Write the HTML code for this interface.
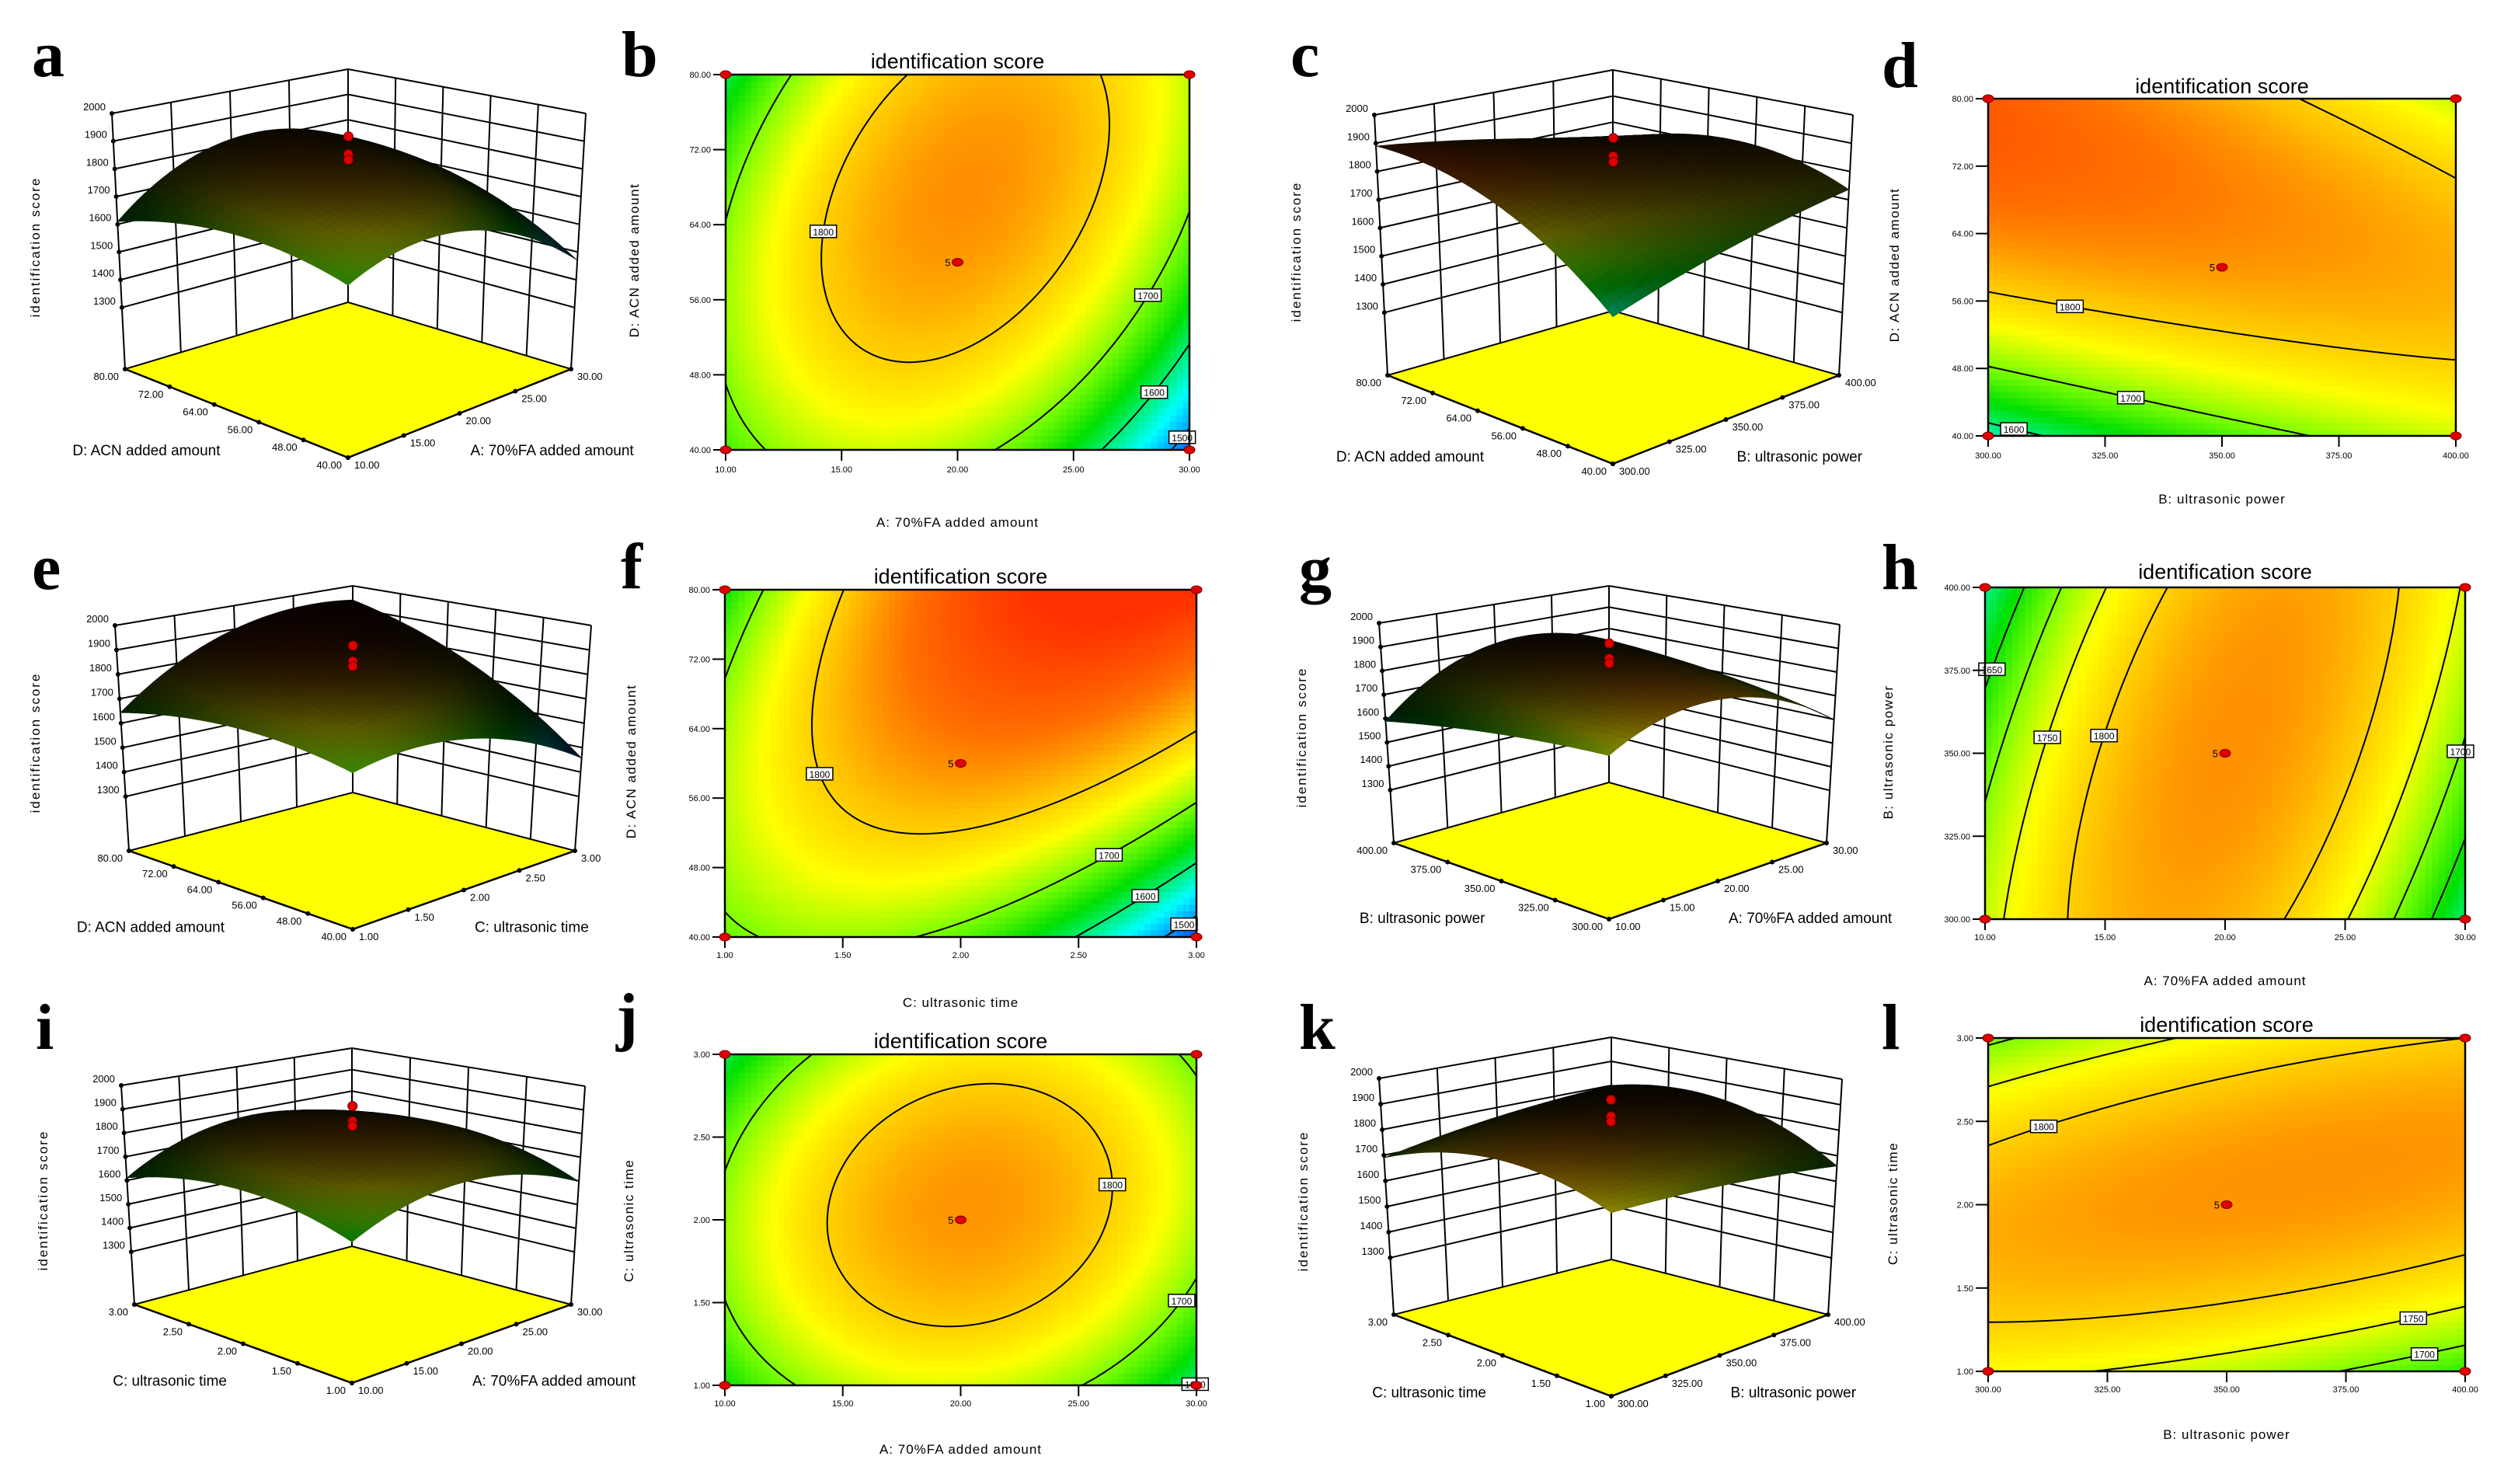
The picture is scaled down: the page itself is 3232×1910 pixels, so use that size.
<!DOCTYPE html>
<html><head><meta charset="utf-8">
<style>
html,body{margin:0;padding:0;background:#fff}
svg{display:block}
text{font-family:"Liberation Sans",sans-serif;fill:#000}
.lt{font-family:"Liberation Serif",serif;font-weight:bold;font-size:84px}
</style></head>
<body>
<svg id="fig" xmlns="http://www.w3.org/2000/svg" width="3232" height="1910" viewBox="0 0 3232 1910">
<rect width="3232" height="1910" fill="#fff"/>
<text class="lt" x="41" y="98">a</text>
<text class="lt" x="800" y="98">b</text>
<text class="lt" x="1661" y="98">c</text>
<text class="lt" x="2422" y="112">d</text>
<text class="lt" x="41" y="758">e</text>
<text class="lt" x="799" y="757">f</text>
<text class="lt" x="1672" y="760">g</text>
<text class="lt" x="2422" y="758">h</text>
<text class="lt" x="46" y="1350">i</text>
<text class="lt" x="793" y="1336">j</text>
<text class="lt" x="1672" y="1350">k</text>
<text class="lt" x="2422" y="1350">l</text>
</svg>
<script>
// ---- data ----
const tickA = ['10.00','15.00','20.00','25.00','30.00'];
const tickB = ['300.00','325.00','350.00','375.00','400.00'];
const tickC = ['1.00','1.50','2.00','2.50','3.00'];
const tickD = ['40.00','48.00','56.00','64.00','72.00','80.00'];
const zTicks = [1300,1400,1500,1600,1700,1800,1900,2000];
// quadratic model coefficients [b0, bx, by, bxx, byy, bxy] in coded units
const coefAD = [1840,-20,50,-150,-70,80];
const coefBD = [1843,1,78,-17,-93,-80];
const coefCD = [1851,16,109,-110,-60,131];
const coefAB = [1848,6,1,-161,-21,72];
const coefAC = [1844,7,14,-125,-85,30];
const coefBC = [1845,2.5,17.5,-17.5,-100,52.5];
const levelsAD = [1500,1600,1700,1800];
const levelsBD = [1600,1700,1800];
const levelsCD = [1500,1600,1700,1800];
const levelsAB = [1650,1700,1750,1800];
const levelsAC = [1600,1700,1800];
const levelsBC = [1700,1750,1800];
const centerRuns = [1945,1880,1860];
const colorStops = [1470,1550,1640,1700,1760,1815,1870,1935];
const colorHex = ['#0060ff','#00ffff','#00e000','#80ff00','#ffff00','#ffc000','#ff7000','#ff3000'];

const axisNames = {A:'A: 70%FA added amount',B:'B: ultrasonic power',C:'C: ultrasonic time',D:'D: ACN added amount'};
const tickSets = {A:tickA,B:tickB,C:tickC,D:tickD};

const svg = document.getElementById('fig');
const NS = 'http://www.w3.org/2000/svg';
function mk(tag, attrs, parent){
  const e = document.createElementNS(NS, tag);
  for (const k in attrs) e.setAttribute(k, attrs[k]);
  (parent || svg).appendChild(e);
  return e;
}
function model(c,u,v){ return c[0]+c[1]*u+c[2]*v+c[3]*u*u+c[4]*v*v+c[5]*u*v; }
function hexRgb(h){ return [parseInt(h.substr(1,2),16),parseInt(h.substr(3,2),16),parseInt(h.substr(5,2),16)]; }
const stopRgb = colorHex.map(hexRgb);
function colorRgb(z){
  if (z <= colorStops[0]) return stopRgb[0].slice();
  const n = colorStops.length;
  if (z >= colorStops[n-1]) return stopRgb[n-1].slice();
  for (let i=0;i<n-1;i++){
    if (z <= colorStops[i+1]){
      const t = (z-colorStops[i])/(colorStops[i+1]-colorStops[i]);
      return stopRgb[i].map((a,k)=>a+(stopRgb[i+1][k]-a)*t);
    }
  }
}
function rgbStr(c,f){ f = f===undefined?1:f; return 'rgb('+c.map(x=>Math.round(x*f)).join(',')+')'; }

// ---- contour panels ----
const contourPanels = [
 {id:'b', x0:934,y0:96,x1:1531,y1:579, xt:'A', yt:'D', coef:coefAD, lev:levelsAD, titleY:88, xtickY:608, xtitleY:678, ytitleX:822, ytitleY:335},
 {id:'d', x0:2559,y0:127,x1:3161,y1:561, xt:'B', yt:'D', coef:coefBD, lev:levelsBD, titleY:120, xtickY:590, xtitleY:648, ytitleX:2444, ytitleY:341},
 {id:'f', x0:933,y0:759,x1:1540,y1:1206, xt:'C', yt:'D', coef:coefCD, lev:levelsCD, titleY:751, xtickY:1233, xtitleY:1296, ytitleX:818, ytitleY:980},
 {id:'h', x0:2555,y0:756,x1:3173,y1:1183, xt:'A', yt:'B', coef:coefAB, lev:levelsAB, titleY:745, xtickY:1210, xtitleY:1268, ytitleX:2436, ytitleY:968},
 {id:'j', x0:933,y0:1357,x1:1540,y1:1783, xt:'A', yt:'C', coef:coefAC, lev:levelsAC, titleY:1349, xtickY:1810, xtitleY:1871, ytitleX:815, ytitleY:1571},
 {id:'l', x0:2559,y0:1336,x1:3173,y1:1765, xt:'B', yt:'C', coef:coefBC, lev:levelsBC, titleY:1328, xtickY:1792, xtitleY:1852, ytitleX:2442, ytitleY:1549}
];

function drawContour(c){
  const g = mk('g',{});
  
  
  const W=c.x1-c.x0, H=c.y1-c.y0;
  const xs = u => c.x0 + (u+1)/2*W;
  const ys = v => c.y1 - (v+1)/2*H;
  const hm = mk('g',{'shape-rendering':'crispEdges'},g);
  
  
  const nx=72, ny=54, cw=W/nx, ch=H/ny;
  for (let j=0;j<ny;j++) for (let i=0;i<nx;i++){
    const u=-1+2*(i+0.5)/nx, v=1-2*(j+0.5)/ny;
    const r = mk('rect',{x:(c.x0+i*cw).toFixed(2),y:(c.y0+j*ch).toFixed(2),width:(cw+0.7).toFixed(2),height:(ch+0.7).toFixed(2),fill:rgbStr(colorRgb(model(c.coef,u,v)))},hm);
    
    
  }
  const NX=100, NY=75;
  const val=[];
  for (let j=0;j<=NY;j++){ val.push([]); for (let i=0;i<=NX;i++) val[j].push(model(c.coef,-1+2*i/NX,-1+2*j/NY)); }
  c.lev.forEach(L=>{
    const segs=[];
    const X=(z1,z2)=>(z1>=L)!==(z2>=L);
    for (let j=0;j<NY;j++) for (let i=0;i<NX;i++){
      const pts=[];
      const a=val[j][i], b=val[j][i+1], cc=val[j+1][i+1], d=val[j+1][i];
      const P=(i1,j1,z1,i2,j2,z2)=>{const t=(L-z1)/(z2-z1); return [i1+(i2-i1)*t, j1+(j2-j1)*t];};
      if (X(a,b)) pts.push(P(i,j,a,i+1,j,b));
      if (X(b,cc)) pts.push(P(i+1,j,b,i+1,j+1,cc));
      if (X(cc,d)) pts.push(P(i+1,j+1,cc,i,j+1,d));
      if (X(d,a)) pts.push(P(i,j+1,d,i,j,a));
      const toXY=p=>[xs(-1+2*p[0]/NX), ys(-1+2*p[1]/NY)];
      if (pts.length>=2) segs.push([toXY(pts[0]),toXY(pts[1])]);
      if (pts.length===4) segs.push([toXY(pts[2]),toXY(pts[3])]);
    }
    if (!segs.length) return;
    let dstr='';
    segs.forEach(s=>{dstr+='M'+s[0][0].toFixed(1)+' '+s[0][1].toFixed(1)+'L'+s[1][0].toFixed(1)+' '+s[1][1].toFixed(1);});
    const p = mk('path',{d:dstr,stroke:'#000','stroke-width':2,fill:'none','stroke-linecap':'round'},g);
    
    
    const s = segs[Math.floor(segs.length*0.55)];
    const mx=(s[0][0]+s[1][0])/2, my=(s[0][1]+s[1][1])/2;
    const lb = mk('rect',{x:mx-17,y:my-8,width:34,height:16,fill:'#fff',stroke:'#000','stroke-width':1.5},g);
    
    
    const lt = mk('text',{x:mx,y:my+5,'font-size':12,'text-anchor':'middle'},g);
    
    
    lt.textContent = L;
  });
  const bd = mk('rect',{x:c.x0,y:c.y0,width:W,height:H,fill:'none',stroke:'#000','stroke-width':2.5},g);
  
  
  const tx = tickSets[c.xt];
  tx.forEach((t,i)=>{
    const x = xs(-1+2*i/(tx.length-1));
    const ln = mk('line',{x1:x,y1:c.y1,x2:x,y2:c.y1+14,stroke:'#000','stroke-width':2},g);
    
    
    const tt = mk('text',{x:x,y:c.xtickY,'font-size':11,'text-anchor':'middle'},g);
    
    
    tt.textContent = t;
  });
  const ty = tickSets[c.yt];
  ty.forEach((t,i)=>{
    const y = ys(-1+2*i/(ty.length-1));
    const ln = mk('line',{x1:c.x0-16,y1:y,x2:c.x0,y2:y,stroke:'#000','stroke-width':2},g);
    
    
    const tt = mk('text',{x:c.x0-19,y:y+4,'font-size':11,'text-anchor':'end'},g);
    
    
    tt.textContent = t;
  });
  [[-1,-1],[1,-1],[-1,1],[1,1]].forEach(p=>{
    const e = mk('ellipse',{cx:xs(p[0]),cy:ys(p[1]),rx:7,ry:5,fill:'#e00000',stroke:'#700','stroke-width':1},g);
    
    
  });
  const ce = mk('ellipse',{cx:xs(0),cy:ys(0),rx:7,ry:5,fill:'#e00000',stroke:'#700','stroke-width':1},g);
  
  
  const cl = mk('text',{x:xs(0)-9,y:ys(0)+5,'font-size':13,'text-anchor':'end'},g);
  
  
  cl.textContent = '5';
  const ti = mk('text',{x:(c.x0+c.x1)/2,y:c.titleY,'font-size':27,'text-anchor':'middle'},g);
  
  
  ti.textContent = 'identification score';
  const xt = mk('text',{x:(c.x0+c.x1)/2,y:c.xtitleY,'font-size':17,'text-anchor':'middle','letter-spacing':1},g);
  
  
  xt.textContent = axisNames[c.xt];
  const yt = mk('text',{x:c.ytitleX,y:c.ytitleY,'font-size':17,'text-anchor':'middle','letter-spacing':1.5,transform:'rotate(-90 '+c.ytitleX+' '+c.ytitleY+')'},g);
  
  
  yt.textContent = axisNames[c.yt];
}
contourPanels.forEach(drawContour);

// ---- 3D surface panels ----
const ZF = 1078, ZT = 2000;
const surfacePanels = [
 {id:'a', F:[448,589], L:[161,475], R:[735,475], B:[448,389], tL:[144,146], tR:[754,146], tB:[448,89], xt:'A', yt:'D', coef:coefAD, yT:[51,318]},
 {id:'c', F:[2076,597], L:[1786,483], R:[2367,483], B:[2076,400], tL:[1769,148], tR:[2385,148], tB:[2076,90], xt:'B', yt:'D', coef:coefBD, yT:[1674,324]},
 {id:'e', F:[454,1196], L:[166,1095], R:[740,1095], B:[454,1020], tL:[148,805], tR:[761,805], tB:[454,754], xt:'C', yt:'D', coef:coefCD, yT:[51,956]},
 {id:'g', F:[2071,1183], L:[1794,1085], R:[2351,1085], B:[2071,1007], tL:[1775,802], tR:[2368,804], tB:[2071,754], xt:'A', yt:'B', coef:coefAB, yT:[1681,949]},
 {id:'i', F:[453,1780], L:[173,1679], R:[735,1679], B:[453,1604], tL:[156,1397], tR:[753,1398], tB:[453,1349], xt:'A', yt:'C', coef:coefAC, yT:[61,1545]},
 {id:'k', F:[2074,1797], L:[1794,1692], R:[2353,1692], B:[2074,1621], tL:[1775,1388], tR:[2371,1389], tB:[2074,1335], xt:'B', yt:'C', coef:coefBC, yT:[1683,1546]}
];

function drawSurface(s){
  const tF = [s.F[0], s.F[1]-(s.L[1]-s.tL[1])*1.05];
  function bil(F,R,L,B,u,v){
    const a=(u+1)/2, b=(v+1)/2;
    return [F[0]*(1-a)*(1-b)+R[0]*a*(1-b)+L[0]*(1-a)*b+B[0]*a*b,
            F[1]*(1-a)*(1-b)+R[1]*a*(1-b)+L[1]*(1-a)*b+B[1]*a*b];
  }
  function P(u,v,z){
    const f = bil(s.F,s.R,s.L,s.B,u,v), t = bil(tF,s.tR,s.tL,s.tB,u,v);
    const k = (z-ZF)/(ZT-ZF);
    return [f[0]+(t[0]-f[0])*k, f[1]+(t[1]-f[1])*k];
  }
  const g = mk('g',{});
  
  
  const line=(p,q,w,name)=>{
    const l = mk('line',{x1:p[0].toFixed(1),y1:p[1].toFixed(1),x2:q[0].toFixed(1),y2:q[1].toFixed(1),stroke:'#000','stroke-width':w},g);
    
    
  };
  const fl = [P(-1,-1,ZF),P(1,-1,ZF),P(1,1,ZF),P(-1,1,ZF)];
  const floor = mk('polygon',{points:fl.map(p=>p.join(',')).join(' '),fill:'#ffff00',stroke:'#000','stroke-width':2},g);
  
  
  zTicks.forEach(z=>{
    line(P(-1,1,z),P(1,1,z),2,'left-wall-gridline');
    line(P(1,1,z),P(1,-1,z),2,'right-wall-gridline');
  });
  const tx = tickSets[s.xt], ty = tickSets[s.yt];
  tx.forEach((t,i)=>{ const u=-1+2*i/(tx.length-1); line(P(u,1,ZF),P(u,1,ZT),2,'left-wall-vertical'); });
  ty.forEach((t,i)=>{ const v=-1+2*i/(ty.length-1); line(P(1,v,ZF),P(1,v,ZT),2,'right-wall-vertical'); });
  line(P(-1,-1,ZF),P(-1,1,ZF),2.5,'floor-edge-left');
  line(P(-1,-1,ZF),P(1,-1,ZF),2.5,'floor-edge-right');
  zTicks.forEach(z=>{
    const p = P(-1,1,z);
    const d = mk('circle',{cx:p[0],cy:p[1],r:3,fill:'#000'},g);
    
    
    const t = mk('text',{x:p[0]-8,y:p[1]-4,'font-size':13,'text-anchor':'end'},g);
    
    
    t.textContent = z;
  });
  ty.forEach((t,i)=>{
    const v=-1+2*i/(ty.length-1), p=P(-1,v,ZF);
    const d = mk('circle',{cx:p[0],cy:p[1],r:3,fill:'#000'},g);
    
    
    const tt = mk('text',{x:p[0]-8,y:p[1]+14,'font-size':13,'text-anchor':'end'},g);
    
    
    tt.textContent = t;
  });
  tx.forEach((t,i)=>{
    const u=-1+2*i/(tx.length-1), p=P(u,-1,ZF);
    const d = mk('circle',{cx:p[0],cy:p[1],r:3,fill:'#000'},g);
    
    
    const tt = mk('text',{x:p[0]+8,y:p[1]+14,'font-size':13,'text-anchor':'start'},g);
    
    
    tt.textContent = t;
  });
  const mL = [(s.L[0]+s.F[0])/2,(s.L[1]+s.F[1])/2], mR=[(s.R[0]+s.F[0])/2,(s.R[1]+s.F[1])/2];
  const at1 = mk('text',{x:mL[0]-21,y:mL[1]+54,'font-size':19,'text-anchor':'end'},g);
  
  
  at1.textContent = axisNames[s.yt];
  const at2 = mk('text',{x:mR[0]+14,y:mR[1]+54,'font-size':19,'text-anchor':'start'},g);
  
  
  at2.textContent = axisNames[s.xt];
  const zt = mk('text',{x:s.yT[0],y:s.yT[1],'font-size':17,'text-anchor':'middle','letter-spacing':2,transform:'rotate(-90 '+s.yT[0]+' '+s.yT[1]+')'},g);
  
  
  zt.textContent = 'identification score';
  const N=34, cells=[];
  for (let i=0;i<N;i++) for (let j=0;j<N;j++){
    const u0=-1+2*i/N,u1=-1+2*(i+1)/N,v0=-1+2*j/N,v1=-1+2*(j+1)/N;
    cells.push([u0,u1,v0,v1]);
  }
  cells.sort((a,b)=>(b[0]+b[1]+b[2]+b[3])-(a[0]+a[1]+a[2]+a[3]));
  const sg = mk('g',{},g);
  
  
  cells.forEach(c=>{
    const q=[[c[0],c[2]],[c[1],c[2]],[c[1],c[3]],[c[0],c[3]]];
    const pts = q.map(p=>P(p[0],p[1],model(s.coef,p[0],p[1])));
    const uc=(c[0]+c[1])/2, vc=(c[2]+c[3])/2;
    const zc = model(s.coef,uc,vc);
    const fr = (2-(uc+vc))/4;
    const br = 0.03 + 0.5*Math.pow(fr,2.2);
    const col = rgbStr(colorRgb(zc),br);
    const pg = mk('polygon',{points:pts.map(p=>p[0].toFixed(1)+','+p[1].toFixed(1)).join(' '),fill:col,stroke:col,'stroke-width':0.6},sg);
    
    
  });
  centerRuns.forEach(z=>{
    const p = P(0,0,z);
    const d = mk('circle',{cx:p[0],cy:p[1],r:6,fill:'#e00000',stroke:'#600','stroke-width':1},g);
    
    
  });
}
surfacePanels.forEach(drawSurface);
</script>
</body></html>
